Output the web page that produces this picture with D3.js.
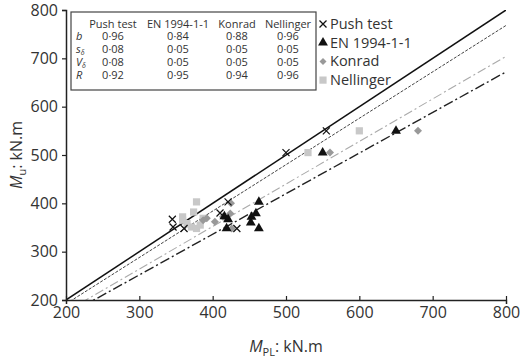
<!DOCTYPE html>
<html>
<head>
<meta charset="utf-8">
<script src="https://cdn.jsdelivr.net/npm/d3@7"></script>
<style>
  body { margin: 0; background: #fff; }
  text { font-family: "Open Sans", "Noto Sans", sans-serif; fill: #333; }
</style>
</head>
<body>
<div id="viz"></div>
<script>
var width = 520;
var height = 359;
var margin = {top: 10, right: 14, bottom: 59, left: 66};

// data
var pushX = [345, 346, 361, 410, 421, 433, 500, 555];
var pushY = [367, 351, 348, 380, 403, 348, 505, 550];
var enX = [416, 419, 421, 452, 453, 459, 463, 463, 550, 650];
var enY = [373, 348, 367, 360, 372, 379, 403, 348, 505, 550];
var konradX = [387, 392, 403, 414, 424, 425, 426, 560, 680];
var konradY = [365, 369, 362, 372, 379, 400, 348, 505, 550];
var nellX = [359, 359, 365, 371, 374, 378, 378, 383, 387, 530, 600];
var nellY = [372, 365, 358, 351, 382, 403, 348, 355, 369, 505, 550];

var lineSlopes = [1, 0.96, 0.88, 0.84];
var xTicks = [200, 300, 400, 500, 600, 700, 800];
var yTicks = [200, 300, 400, 500, 600, 700, 800];

var tableCols = ['Push test', 'EN 1994-1-1', 'Konrad', 'Nellinger'];
var tableRowNames = [['b', ''], ['s', 'δ'], ['V', 'δ'], ['R', '']];
var tableValues = [
  ['0·96', '0·84', '0·88', '0·96'],
  ['0·08', '0·05', '0·05', '0·05'],
  ['0·08', '0·05', '0·05', '0·05'],
  ['0·92', '0·95', '0·94', '0·96']
];
var legendNames = ['Push test', 'EN 1994-1-1', 'Konrad', 'Nellinger'];

var plotW = width - margin.left - margin.right;
var plotH = height - margin.top - margin.bottom;

var xScale = d3.scaleLinear().domain([200, 800]).range([0, plotW]);
var yScale = d3.scaleLinear().domain([200, 800]).range([plotH, 0]);

var svg = d3.select('#viz').append('svg')
  .attr('width', width)
  .attr('height', height);

var chart = svg.append('g')
  .attr('transform', 'translate(' + margin.left + ',' + margin.top + ')');

svg.append('defs').append('clipPath').attr('id', 'plotclip')
  .append('rect').attr('width', plotW).attr('height', plotH);

// fit lines y = b*x
var lineStyles = [
  {stroke: '#111', width: 1.5, dash: null},
  {stroke: '#444', width: 1, dash: '3,1.5'},
  {stroke: '#aaa', width: 1.1, dash: '9,3,2,3'},
  {stroke: '#222', width: 1.4, dash: '10,3,2,3'}
];
var lineGen = d3.line().x(d => xScale(d[0])).y(d => yScale(d[1]));
var lineG = chart.append('g').attr('clip-path', 'url(#plotclip)');
lineSlopes.forEach(function(b, i) {
  lineG.append('path')
    .attr('d', lineGen([[200, 200 * b], [800, 800 * b]]))
    .attr('fill', 'none')
    .attr('stroke', lineStyles[i].stroke)
    .attr('stroke-width', lineStyles[i].width)
    .attr('stroke-dasharray', lineStyles[i].dash);
});

// axes
var xAxis = d3.axisBottom(xScale).tickValues(xTicks).tickSize(4).tickPadding(3);
var yAxis = d3.axisLeft(yScale).tickValues(yTicks).tickSize(4).tickPadding(4);

var xG = chart.append('g').attr('transform', 'translate(0,' + plotH + ')').call(xAxis);
var yG = chart.append('g').call(yAxis);
[xG, yG].forEach(function(g) {
  g.select('.domain').attr('stroke', '#222').attr('stroke-width', 1.5);
  g.selectAll('.tick line').attr('stroke', '#222').attr('stroke-width', 1.2);
  g.selectAll('.tick text').style('font-size', '16px').attr('fill', '#444')
    .style('font-family', '"Open Sans", sans-serif');
});
xG.selectAll('.tick line').attr('y2', -4);
yG.selectAll('.tick line').attr('x2', -4);

// markers
function crossPath(s) {
  return 'M' + (-s) + ',' + (-s) + 'L' + s + ',' + s + 'M' + (-s) + ',' + s + 'L' + s + ',' + (-s);
}
function diamondPath(s) {
  return 'M0,' + (-s) + 'L' + s + ',0L0,' + s + 'L' + (-s) + ',0Z';
}
var tri = d3.symbol().type(d3.symbolTriangle).size(42);
var sq = d3.symbol().type(d3.symbolSquare).size(52);

chart.append('g').selectAll('path').data(nellX)
  .enter().append('path')
  .attr('d', sq())
  .attr('transform', (d, i) => 'translate(' + xScale(d) + ',' + yScale(nellY[i]) + ')')
  .attr('fill', '#c8c8c8');

chart.append('g').selectAll('path').data(konradX)
  .enter().append('path')
  .attr('d', diamondPath(4))
  .attr('transform', (d, i) => 'translate(' + xScale(d) + ',' + yScale(konradY[i]) + ')')
  .attr('fill', '#999');

chart.append('g').selectAll('path').data(enX)
  .enter().append('path')
  .attr('d', tri())
  .attr('transform', (d, i) => 'translate(' + xScale(d) + ',' + yScale(enY[i]) + ')')
  .attr('fill', '#111');

chart.append('g').selectAll('path').data(pushX)
  .enter().append('path')
  .attr('d', crossPath(3.5))
  .attr('transform', (d, i) => 'translate(' + xScale(d) + ',' + yScale(pushY[i]) + ')')
  .attr('stroke', '#111')
  .attr('stroke-width', 1.2)
  .attr('fill', 'none');

// legend
var legend = svg.append('g').attr('transform', 'translate(323,24)');
var legendIcons = [
  g => g.append('path').attr('d', crossPath(3.5)).attr('stroke', '#111').attr('stroke-width', 1.3),
  g => g.append('path').attr('d', tri()).attr('fill', '#111'),
  g => g.append('path').attr('d', diamondPath(3.5)).attr('fill', '#999'),
  g => g.append('path').attr('d', sq()).attr('fill', '#c8c8c8')
];
legendNames.forEach(function(name, i) {
  var g = legend.append('g').attr('transform', 'translate(0,' + (i * 18.7) + ')');
  legendIcons[i](g);
  g.append('text').attr('x', 7).attr('y', 5)
    .style('font-size', '14.5px').attr('fill', '#333').text(name);
});

// table box
var table = svg.append('g');
table.append('rect')
  .attr('x', 71).attr('y', 12).attr('width', 245).attr('height', 78)
  .attr('fill', '#fff').attr('stroke', '#444').attr('stroke-width', 1.2);
var colX = [113, 178, 237, 288];
var rowY = [28, 40, 53, 66, 79];
tableCols.forEach(function(c, j) {
  table.append('text').attr('x', colX[j]).attr('y', rowY[0])
    .attr('text-anchor', 'middle').style('font-size', '11px').attr('fill', '#444').text(c);
});
tableRowNames.forEach(function(r, i) {
  var t = table.append('text').attr('x', 76).attr('y', rowY[i + 1])
    .style('font-size', '11px').style('font-style', 'italic').attr('fill', '#444');
  t.append('tspan').text(r[0]);
  if (r[1]) t.append('tspan').attr('dy', 2).style('font-size', '7px').text(r[1]);
  tableValues[i].forEach(function(v, j) {
    table.append('text').attr('x', colX[j]).attr('y', rowY[i + 1])
      .attr('text-anchor', 'middle').style('font-size', '11px').attr('fill', '#444').text(v);
  });
});

// axis titles
var xTitle = svg.append('text')
  .attr('x', margin.left + plotW / 2).attr('y', 352)
  .attr('text-anchor', 'middle').style('font-size', '16px').attr('fill', '#333');
xTitle.append('tspan').style('font-style', 'italic').text('M');
xTitle.append('tspan').attr('dy', 4).style('font-size', '11px').text('PL');
xTitle.append('tspan').attr('dy', -4).text(': kN.m');

var yTitle = svg.append('text')
  .attr('transform', 'translate(22,' + (margin.top + plotH / 2) + ') rotate(-90)')
  .attr('text-anchor', 'middle').style('font-size', '16px').attr('fill', '#333');
yTitle.append('tspan').style('font-style', 'italic').text('M');
yTitle.append('tspan').attr('dy', 4).style('font-size', '11px').text('u');
yTitle.append('tspan').attr('dy', -4).text(': kN.m');
</script>
</body>
</html>
